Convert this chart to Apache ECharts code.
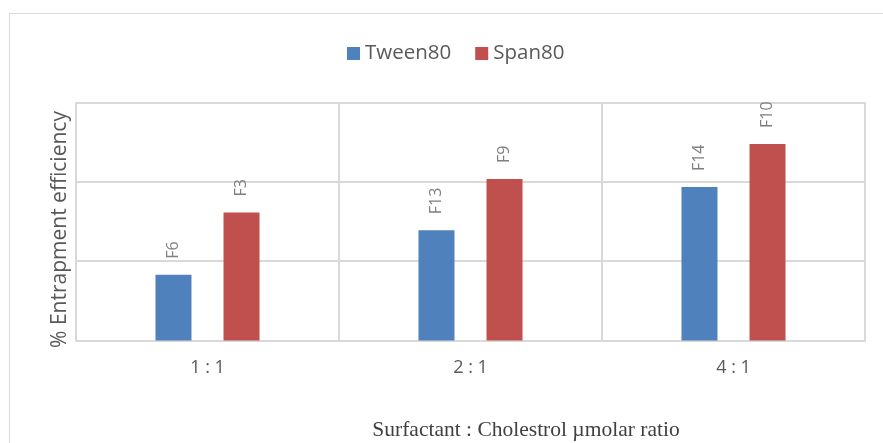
<!DOCTYPE html>
<html>
<head>
<meta charset="utf-8">
<script src="https://cdn.jsdelivr.net/npm/echarts@6/dist/echarts.min.js"></script>
<style>
  html, body { margin: 0; padding: 0; background: #ffffff; }
  #chart { width: 883px; height: 443px; }
</style>
</head>
<body>
<div id="chart"></div>
<script>
// Surfactant : cholesterol ratios
const categories = ['1 : 1', '2 : 1', '4 : 1'];
// Entrapment efficiency per surfactant type
const tween80 = [24.9, 41.7, 58.0];
const span80 = [48.4, 61.1, 74.3];
// Formulation codes shown above each bar
const tweenCodes = ['F6', 'F13', 'F14'];
const spanCodes = ['F3', 'F9', 'F10'];

const gridColor = '#d9d9d9';
const sans = '"Open Sans", "Noto Sans", sans-serif';

function codeLabel(codes) {
  return {
    show: true,
    position: 'top',
    rotate: 90,
    align: 'left',
    verticalAlign: 'middle',
    distance: 16,
    color: '#7f7f7f',
    fontFamily: sans,
    fontSize: 16,
    formatter: p => codes[p.dataIndex]
  };
}

const chart = echarts.init(document.getElementById('chart'), null, { renderer: 'canvas' });
chart.setOption({
  animation: false,
  backgroundColor: '#ffffff',
  graphic: [{
    type: 'rect',
    silent: true,
    shape: { x: 9.5, y: 13.5, width: 1000, height: 600 },
    style: { fill: 'none', stroke: gridColor, lineWidth: 1 }
  }],
  title: {
    text: 'Surfactant : Cholestrol µmolar ratio',
    left: 521,
    top: 414,
    textAlign: 'center',
    textStyle: {
      fontFamily: '"Liberation Serif", "Times New Roman", serif',
      fontWeight: 'normal',
      fontSize: 21.5,
      color: '#404040'
    }
  },
  legend: {
    top: 38,
    left: 342,
    icon: 'rect',
    itemWidth: 13,
    itemHeight: 13,
    itemGap: 24,
    textStyle: { fontFamily: sans, fontSize: 20.5, color: '#595959' },
    data: ['Tween80', 'Span80']
  },
  grid: {
    left: 76,
    right: 18,
    top: 102.5,
    bottom: 102.5,
    show: true,
    borderColor: gridColor,
    borderWidth: 1
  },
  xAxis: {
    type: 'category',
    data: categories,
    axisLine: { show: true, lineStyle: { color: gridColor, width: 2 } },
    axisTick: { show: false },
    splitLine: { show: true, lineStyle: { color: gridColor, width: 2 } },
    axisLabel: { color: '#595959', fontFamily: sans, fontSize: 18, margin: 18 }
  },
  yAxis: {
    type: 'value',
    min: 0,
    max: 90,
    interval: 30,
    name: '% Entrapment efficiency',
    nameLocation: 'middle',
    nameGap: 5,
    nameTextStyle: { color: '#595959', fontFamily: sans, fontSize: 21, padding: [0, 16, 0, 0] },
    axisLine: { show: false },
    axisTick: { show: false },
    axisLabel: { show: false },
    splitLine: { show: true, lineStyle: { color: gridColor, width: 2 } }
  },
  series: [
    {
      name: 'Tween80',
      type: 'bar',
      data: tween80,
      barWidth: 36,
      barGap: '89%',
      itemStyle: { color: '#4f81bd' },
      label: codeLabel(tweenCodes)
    },
    {
      name: 'Span80',
      type: 'bar',
      data: span80,
      barWidth: 36,
      itemStyle: { color: '#c0504d' },
      label: codeLabel(spanCodes)
    }
  ]
});
</script>
</body>
</html>
